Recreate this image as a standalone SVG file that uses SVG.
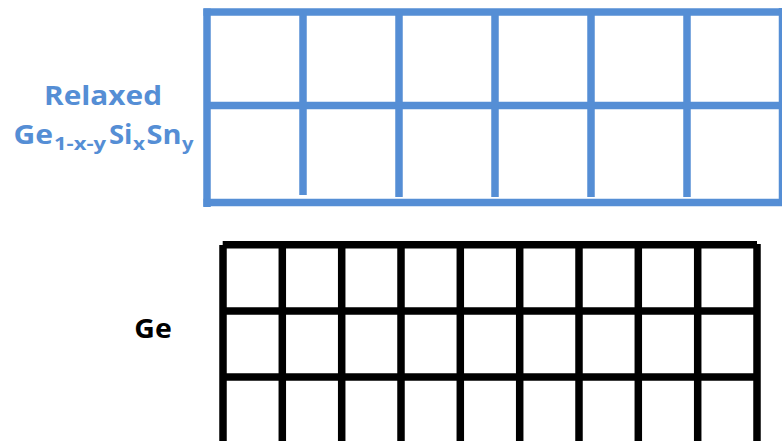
<svg xmlns="http://www.w3.org/2000/svg" width="782" height="441" viewBox="0 0 782 441">
<style>
.b{stroke:#558ED5;stroke-width:7.5;fill:none}
.k{stroke:#000;stroke-width:7.5;fill:none}
.t{font-family:"Open Sans","Liberation Sans",Arial,sans-serif;font-weight:bold}
</style>
<rect width="782" height="441" fill="#fff"/>
<g id="relaxed-lattice">
<line class="b" x1="207" y1="8.5" x2="207" y2="207"/>
<line class="b" x1="203.5" y1="12" x2="782" y2="12"/>
<line class="b" x1="207" y1="105.5" x2="782" y2="105.5"/>
<line class="b" x1="203.5" y1="202.5" x2="782" y2="202.5"/>
<line class="b" x1="782.5" y1="8" x2="782.5" y2="206"/>
<line class="b" x1="303" y1="12" x2="303" y2="195"/>
<line class="b" x1="399" y1="12" x2="399" y2="197"/>
<line class="b" x1="495" y1="12" x2="495" y2="197"/>
<line class="b" x1="591" y1="12" x2="591" y2="197"/>
<line class="b" x1="687" y1="12" x2="687" y2="197"/>
</g>
<g id="ge-lattice">
<line class="k" x1="223" y1="245" x2="223" y2="441"/>
<line class="k" x1="222.7" y1="244.7" x2="757" y2="244.7"/>
<line class="k" x1="757" y1="244" x2="757" y2="441"/>
<line class="k" x1="223" y1="311" x2="757" y2="311"/>
<line class="k" x1="223" y1="377" x2="757" y2="377"/>
<line class="k" x1="282.3" y1="245" x2="282.3" y2="441"/>
<line class="k" x1="341.7" y1="245" x2="341.7" y2="441"/>
<line class="k" x1="401" y1="245" x2="401" y2="441"/>
<line class="k" x1="460.3" y1="245" x2="460.3" y2="441"/>
<line class="k" x1="519.7" y1="245" x2="519.7" y2="441"/>
<line class="k" x1="579" y1="245" x2="579" y2="441"/>
<line class="k" x1="638.3" y1="245" x2="638.3" y2="441"/>
<line class="k" x1="697.7" y1="245" x2="697.7" y2="441"/>
</g>
<g id="label-relaxed" class="t" fill="#558ED5">
<text x="44" y="105" font-size="27" textLength="118" lengthAdjust="spacingAndGlyphs">Relaxed</text>
<text y="143.5" font-size="26.5"><tspan x="13.5" textLength="39.5" lengthAdjust="spacingAndGlyphs">Ge</tspan><tspan x="54" y="149.5" font-size="17" textLength="52" lengthAdjust="spacingAndGlyphs">1-x-y</tspan><tspan x="109" y="143.5" textLength="23.5" lengthAdjust="spacingAndGlyphs">Si</tspan><tspan x="133" y="149.5" font-size="17" textLength="12" lengthAdjust="spacingAndGlyphs">x</tspan><tspan x="146.5" y="143.5" textLength="35" lengthAdjust="spacingAndGlyphs">Sn</tspan><tspan x="182" y="149.5" font-size="17" textLength="11.5" lengthAdjust="spacingAndGlyphs">y</tspan></text>
</g>
<g id="label-ge" class="t" fill="#000">
<text x="134.3" y="338.3" font-size="26.5" textLength="37.4" lengthAdjust="spacingAndGlyphs">Ge</text>
</g>
</svg>
